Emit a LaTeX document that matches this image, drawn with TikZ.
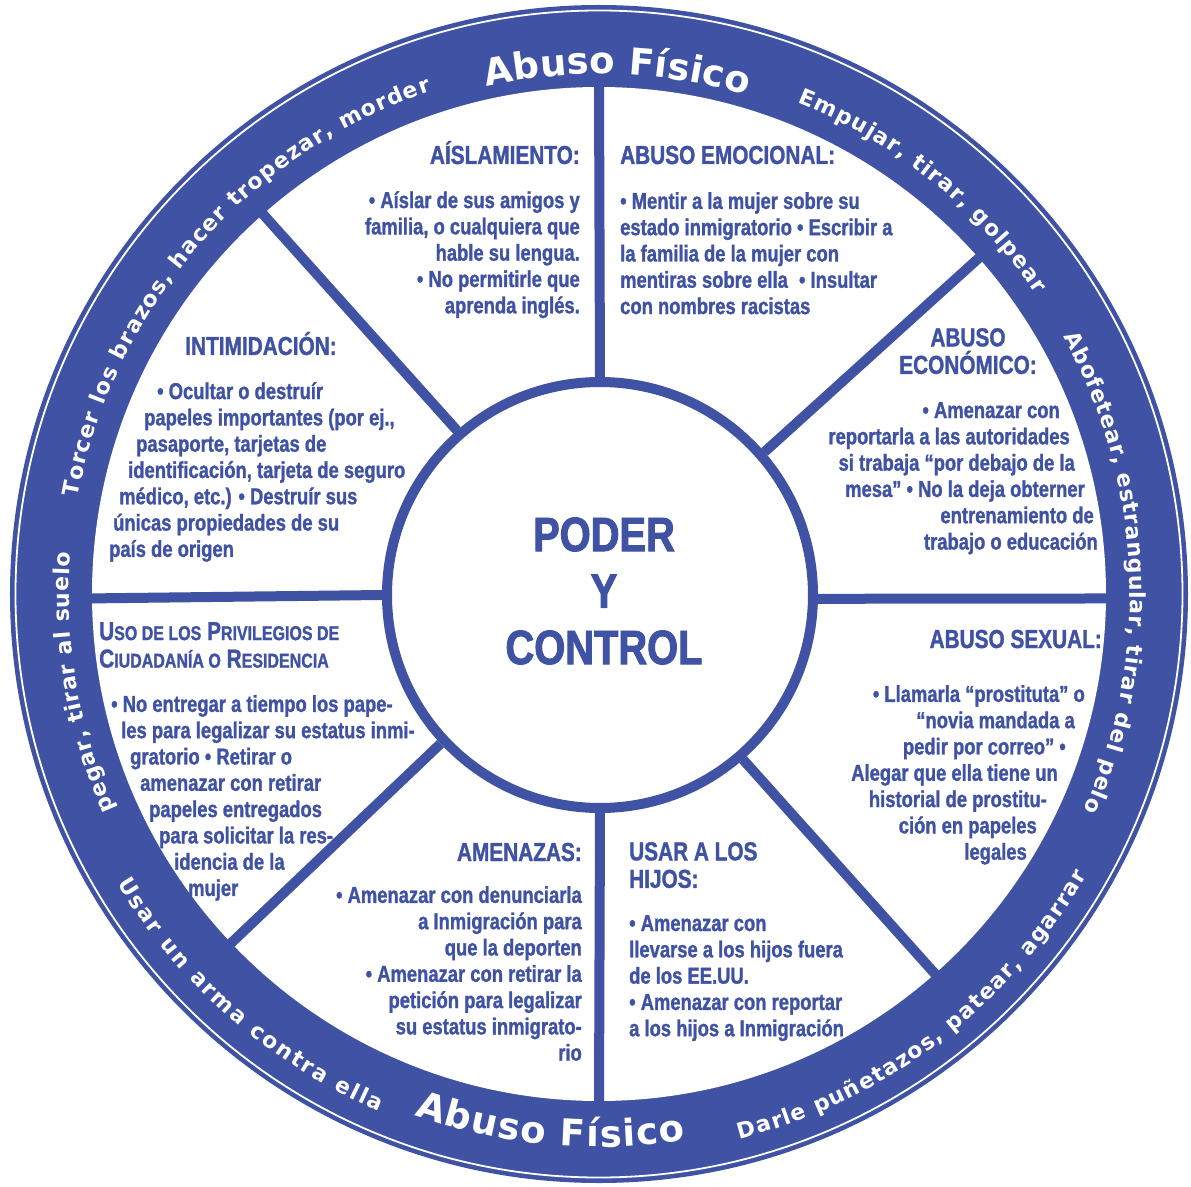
\documentclass[tikz,border=0pt]{standalone}
\usepackage{fontspec}
\usepackage{tikz}
\usetikzlibrary{decorations.text}

\definecolor{wheelblue}{RGB}{63,82,164}

\newfontfamily\bodyfont[FakeStretch=0.8, FakeBold=1.2]{Liberation Sans}
\newfontfamily\corefont[FakeStretch=0.83, FakeBold=2]{Liberation Sans}
\newfontfamily\ringfont{DejaVu Sans}

\newcommand{\ind}[1]{\rule{#1pt}{0pt}}
\newcommand{\fsc}[2]{#1{\fontsize{20}{22}\selectfont #2}}
\newcommand{\ringsmall}{\ringfont\bfseries\fontsize{22}{22}\selectfont}
\newcommand{\ringbig}{\ringfont\bfseries\fontsize{37}{37}\selectfont}

\tikzset{
	core/.style={circle, draw=wheelblue, line width=10, fill=white, minimum size=426, inner sep=0},
	title/.style={inner sep=0, text=wheelblue, align=center, font=\corefont\bfseries\fontsize{48}{56.5}\selectfont},
	spoke/.style={draw=wheelblue, line width=10},
	head/.style={inner sep=0, text=wheelblue, font=\bodyfont\bfseries\fontsize{26}{27.5}\selectfont},
	body/.style={inner sep=0, text=wheelblue, font=\bodyfont\bfseries\fontsize{23}{26.3}\selectfont},
	ringtext/.style={decoration={text along path, text={|\ringsmall|#1}, text color=white,
		text align={fit to path}}, decorate},
	bigring/.style={decoration={text along path, text={|\ringbig|#1}, text color=white,
		text align={fit to path}}, decorate}
}

\begin{document}
\begin{tikzpicture}[x=1pt,y=1pt]
	\useasboundingbox (-599,-592) rectangle (592,594);

	% outer band
	\fill [wheelblue] (0,0) circle[radius=589];
	\draw [white, line width=1.8] (0,0) circle[radius=583.5];
	\fill [white] (0,0) circle[radius=507];

	% hub and spokes
	\node [core] (core) at (1,-1) {};
	\node [title] (title) at (5,3) {PODER\\Y\\CONTROL};
	\foreach \a in {90,41.5,359.5,311.5,270,223.5,180.5,131.5}
		\draw [spoke] (core.\a) -- (\a:512);

	% physical abuse around the band
	\path [bigring={Abuso Físico}] (102.5:520) arc[start angle=102.5, end angle=73.5, radius=520];
	\path [ringtext={Empujar, tirar, golpear}] (68:530) arc[start angle=68, end angle=34.5, radius=530];
	\path [ringtext={Abofetear, estrangular, tirar del pelo}] (29:531) arc[start angle=29, end angle=-24, radius=531];
	\path [ringtext={Darle puñetazos, patear, agarrar}] (-75.5:563) arc[start angle=-75.5, end angle=-30, radius=563];
	\path [bigring={Abuso Físico}] (250.5:553) arc[start angle=250.5, end angle=279, radius=553];
	\path [ringtext={Usar un arma contra ella}] (211:562) arc[start angle=211, end angle=247, radius=562];
	\path [ringtext={pegar, tirar al suelo}] (204:530) arc[start angle=204, end angle=175.5, radius=530];
	\path [ringtext={Torcer los brazos, hacer tropezar, morder}] (169.5:530) arc[start angle=169.5, end angle=108.5, radius=530];

	% the eight wedges
	\node [head, anchor=base east] (isol-h) at (-19,430) {AÍSLAMIENTO:};
	\node [body, anchor=north east, align=right] (isol) at (-19,403)
		{• Aíslar de sus amigos y\\familia, o cualquiera que\\hable su lengua.\\• No permitirle que\\aprenda inglés.};

	\node [head, anchor=base west] (emocional-h) at (21,430) {ABUSO EMOCIONAL:};
	\node [body, anchor=north west, align=left] (emocional) at (21,402)
		{• Mentir a la mujer sobre su\\estado inmigratorio • Escribir a\\la familia de la mujer con\\mentiras sobre ella\hspace{6pt} • Insultar\\con nombres racistas};

	\node [head, anchor=north, align=center] (economico-h) at (369,266) {ABUSO\\ECONÓMICO:};
	\node [body, anchor=north east, align=right] (economico) at (499,192)
		{• Amenazar con\ind{38}\\reportarla a las autoridades\ind{28}\\si trabaja “por debajo de la\ind{23}\\mesa” • No la deja obterner\ind{13}\\entrenamiento de\ind{4}\\trabajo o educación};

	\node [head, anchor=base east] (sexual-h) at (503,-54) {ABUSO SEXUAL:};
	\node [body, anchor=north east, align=right] (sexual) at (486,-91)
		{• Llamarla “prostituta” o\\“novia mandada a\ind{10}\\pedir por correo” •\ind{19}\\Alegar que ella tiene un\ind{27}\\historial de prostitu-\ind{38}\\ción en papeles\ind{48}\\legales\ind{58}};

	\node [head, anchor=north west, align=left] (hijos-h) at (30,-248) {USAR A LOS\\HIJOS:};
	\node [body, anchor=north west, align=left] (hijos) at (30,-321)
		{• Amenazar con\\llevarse a los hijos fuera\\de los EE.UU.\\• Amenazar con reportar\\a los hijos a Inmigración};

	\node [head, anchor=base east] (amenazas-h) at (-17,-267) {AMENAZAS:};
	\node [body, anchor=north east, align=right] (amenazas) at (-17,-292)
		{• Amenazar con denunciarla\\a Inmigración para\\que la deporten\\• Amenazar con retirar la\\petición para legalizar\\su estatus inmigrato-\\rio};

	\node [head, anchor=north west, align=left] (privilegios-h) at (-500,-28)
		{\fsc{U}{SO DE LOS} \fsc{P}{RIVILEGIOS DE}\\\fsc{C}{IUDADANÍA O} \fsc{R}{ESIDENCIA}};
	\node [body, anchor=north west, align=left] (privilegios) at (-488,-101)
		{• No entregar a tiempo los pape-\\\ind{10}les para legalizar su estatus inmi-\\\ind{19}gratorio • Retirar o\\\ind{29}amenazar con retirar\\\ind{38}papeles entregados\\\ind{48}para solicitar la res-\\\ind{63}idencia de la\\\ind{77}mujer};

	\node [head, anchor=base] (intimidacion-h) at (-338,239) {INTIMIDACIÓN:};
	\node [body, anchor=north west, align=left] (intimidacion) at (-490,212)
		{\ind{48}• Ocultar o destruír\\\ind{35}papeles importantes (por ej.,\\\ind{27}pasaporte, tarjetas de\\\ind{19}identificación, tarjeta de seguro\\\ind{10}médico, etc.) • Destruír sus\\\ind{4}únicas propiedades de su\\país de origen};
\end{tikzpicture}
\end{document}
